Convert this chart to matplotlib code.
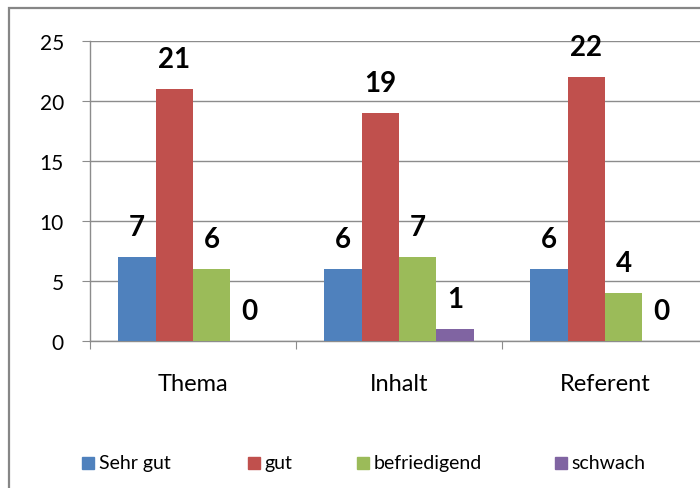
import numpy as np
import matplotlib
matplotlib.use("Agg")
import matplotlib.pyplot as plt
from matplotlib.patches import Rectangle

plt.rcParams["font.family"] = ["Lato", "DejaVu Sans"]

categories = ["Thema", "Inhalt", "Referent"]
series = ["Sehr gut", "gut", "befriedigend", "schwach"]
sehr_gut = [7, 6, 6]
gut = [21, 19, 22]
befriedigend = [6, 7, 4]
schwach = [0, 1, 0]
values = [sehr_gut, gut, befriedigend, schwach]
colors = ["#4F81BD", "#C0504D", "#9BBB59", "#8064A2"]

W, H = 700, 489
fig = plt.figure(figsize=(W / 100, H / 100), dpi=100)

# plot area in pixels: x 90..708, y 42..342
ax = fig.add_axes([90 / W, 1 - 342 / H, 618 / W, 300 / H])

n = len(series)
bw = 1 / (n + 1.5)
x = np.arange(len(categories))
for i, (name, vals, c) in enumerate(zip(series, values, colors)):
    pos = x - 0.5 + 0.75 * bw + (i + 0.5) * bw
    ax.bar(pos, vals, width=bw, color=c, zorder=3)
    for p, v in zip(pos, vals):
        ax.annotate(str(v), (p, v), xytext=(0, 21.6), textcoords="offset points",
                    ha="center", va="center", fontsize=20, fontweight="bold")

ax.set_xlim(-0.5, len(categories) - 0.5)
ax.set_ylim(0, 25)
ax.set_yticks(range(0, 26, 5))
ax.yaxis.grid(True, color="#8C8C8C", lw=1.0, zorder=0)
ax.set_axisbelow(True)

ax.set_xticks(np.arange(-0.5, len(categories), 1.0))
ax.set_xticklabels([])
ax.set_xticks(x, minor=True)
ax.set_xticklabels(categories, minor=True, fontsize=17)
ax.tick_params(axis="x", which="minor", length=0, pad=23)
ax.tick_params(axis="x", which="major", length=5.8, color="#8C8C8C", direction="out")
ax.tick_params(axis="y", length=5.8, color="#8C8C8C", labelsize=15, pad=13)

for s in ["top", "right"]:
    ax.spines[s].set_visible(False)
for s in ["left", "bottom"]:
    ax.spines[s].set_color("#8C8C8C")
    ax.spines[s].set_linewidth(1.0)

# legend, laid out by hand
leg_box_x = [82, 248, 357, 555]
leg_txt_x = [99, 264, 374, 571]
for name, c, bx, tx in zip(series, colors, leg_box_x, leg_txt_x):
    fig.add_artist(Rectangle((bx / W, 1 - 470 / H), 12 / W, 12 / H,
                             transform=fig.transFigure, color=c))
    fig.text(tx / W, 1 - 464 / H, name, ha="left", va="center", fontsize=14)

# outer chart border (left and top visible, rest cropped)
fig.add_artist(Rectangle((8.5 / W, -0.1), 1.2, 1 - 9 / H + 0.1,
                         transform=fig.transFigure, fill=False,
                         edgecolor="#868686", lw=1.6))

fig.savefig("out.png", dpi=100)
